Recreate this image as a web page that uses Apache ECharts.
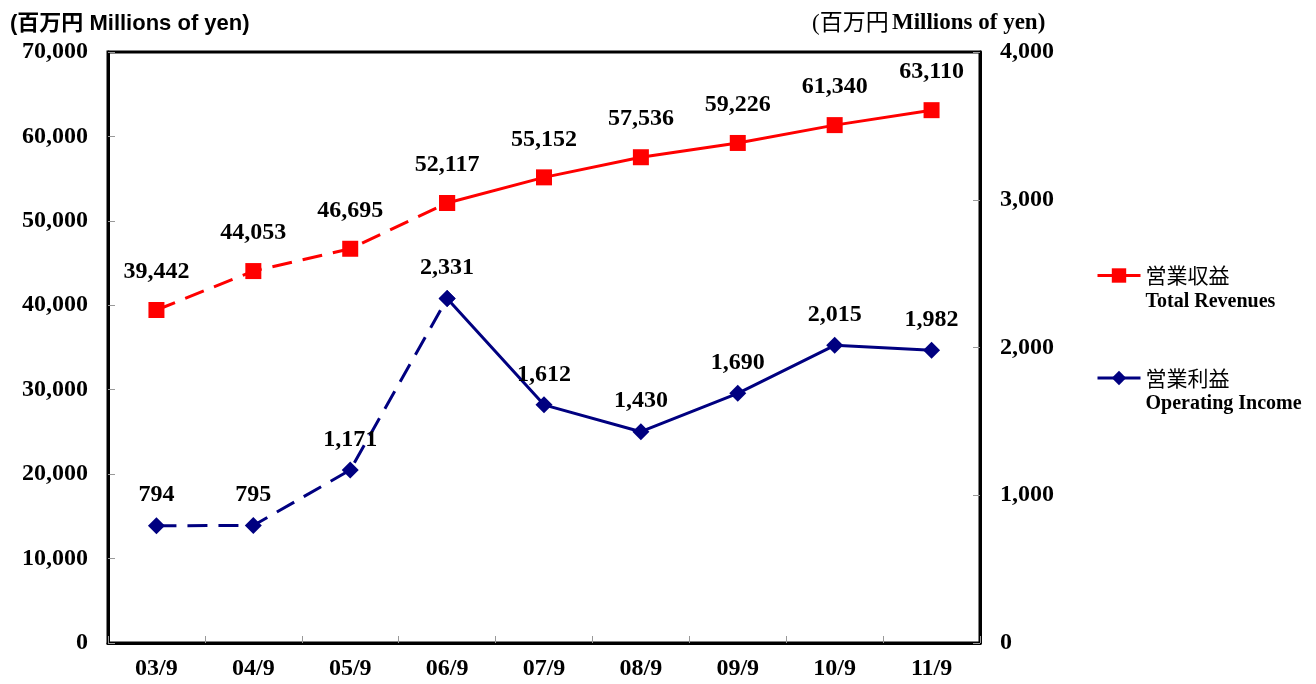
<!DOCTYPE html>
<html>
<head>
<meta charset="utf-8">
<script src="https://cdn.jsdelivr.net/npm/echarts@6/dist/echarts.min.js"></script>
<style>html,body{margin:0;padding:0;background:#fff;}#c{width:1316px;height:684px;}</style>
</head>
<body>
<div id="c"></div>
<script>
var categories = ['03/9','04/9','05/9','06/9','07/9','08/9','09/9','10/9','11/9'];
var revenues = [39442, 44053, 46695, 52117, 55152, 57536, 59226, 61340, 63110];
var opIncome = [794, 795, 1171, 2331, 1612, 1430, 1690, 2015, 1982];
var splitIndex = 3; // dashed up to 06/9, solid afterwards
var leftTicks = {min: 0, max: 70000, interval: 10000};
var rightTicks = {min: 0, max: 4000, interval: 1000};

function part(arr, from, to) {
  return arr.map(function (v, i) { return (i >= from && i <= to) ? v : null; });
}
function fmt(v) { return Number(v).toLocaleString('en-US'); }

var SERIF = '"Liberation Serif", "Times New Roman", serif';
var RED = '#FF0000', NAVY = '#000080';
var FS = 24;

function labelCfg(dist, minIdx) {
  return {
    show: true, position: 'top', distance: dist,
    fontFamily: SERIF, fontWeight: 'bold', fontSize: FS, color: '#000',
    formatter: function (p) { return p.dataIndex >= minIdx ? fmt(p.value) : ''; }
  };
}

var chart = echarts.init(document.getElementById('c'));
chart.setOption({
  animation: false,
  backgroundColor: '#fff',
  grid: {left: 108, right: 336, top: 52, bottom: 41, show: true, borderColor: '#000', borderWidth: 3, backgroundColor: 'transparent'},
  graphic: [
    {type: 'text', left: 10, top: 13, style: {text: '(百万円 Millions of yen)', font: 'bold 22px "Liberation Sans", Arial, "Noto Sans CJK JP", sans-serif', fill: '#000'}},
    {type: 'text', left: 812, top: 12, style: {
      text: '{j|(百万円} {e|Millions of yen)}',
      rich: {
        j: {fontFamily: '"Liberation Serif", "Noto Sans CJK JP", serif', fontSize: 23, fontWeight: 'normal', fill: '#000'},
        e: {fontFamily: SERIF, fontSize: 23, fontWeight: 'bold', fill: '#000'}
      }
    }}
  ],
  legend: {
    orient: 'vertical', left: 1096, top: 265, padding: 0, itemWidth: 43, itemHeight: 18, itemGap: 56,
    data: ['営業収益', '営業利益'],
    lineStyle: {width: 3},
    formatter: function (name) {
      return name === '営業収益' ? '{a|営業収益}\n{b|Total Revenues}' : '{a|営業利益}\n{b|Operating Income}';
    },
    textStyle: {
      padding: [26, 0, 0, 0],
      rich: {
        a: {fontFamily: '"Noto Sans CJK JP", sans-serif', fontSize: 21, lineHeight: 26, color: '#000'},
        b: {fontFamily: SERIF, fontWeight: 'bold', fontSize: 20, lineHeight: 26, color: '#000'}
      }
    }
  },
  xAxis: {
    type: 'category', data: categories, boundaryGap: true,
    axisLine: {lineStyle: {color: '#000', width: 3}},
    axisTick: {show: true, inside: true, length: 7, lineStyle: {color: '#999', width: 1}},
    axisLabel: {fontFamily: SERIF, fontWeight: 'bold', fontSize: FS, color: '#000', margin: 14},
    splitLine: {show: false}
  },
  yAxis: [
    {
      type: 'value', position: 'left', min: leftTicks.min, max: leftTicks.max, interval: leftTicks.interval,
      axisLine: {show: true, lineStyle: {color: '#000', width: 3}},
      axisTick: {show: true, inside: true, length: 7, lineStyle: {color: '#999', width: 1}},
      axisLabel: {fontFamily: SERIF, fontWeight: 'bold', fontSize: FS, color: '#000', margin: 20, formatter: fmt},
      splitLine: {show: false}
    },
    {
      type: 'value', position: 'right', min: rightTicks.min, max: rightTicks.max, interval: rightTicks.interval,
      axisLine: {show: true, lineStyle: {color: '#000', width: 3}},
      axisTick: {show: true, inside: true, length: 7, lineStyle: {color: '#999', width: 1}},
      axisLabel: {fontFamily: SERIF, fontWeight: 'bold', fontSize: FS, color: '#000', margin: 20, formatter: fmt},
      splitLine: {show: false}
    }
  ],
  series: [
    {
      name: '営業収益', type: 'line', yAxisIndex: 0, data: part(revenues, splitIndex, revenues.length - 1),
      symbol: 'rect', symbolSize: 16, itemStyle: {color: RED}, lineStyle: {color: RED, width: 3},
      label: labelCfg(18, splitIndex + 1), z: 3
    },
    {
      name: '営業収益', type: 'line', yAxisIndex: 0, data: part(revenues, 0, splitIndex),
      symbol: 'rect', symbolSize: 16, itemStyle: {color: RED}, lineStyle: {color: RED, width: 3, type: [20, 11]},
      label: labelCfg(18, 0), z: 3
    },
    {
      name: '営業利益', type: 'line', yAxisIndex: 1, data: part(opIncome, splitIndex, opIncome.length - 1),
      symbol: 'diamond', symbolSize: 17, itemStyle: {color: NAVY}, lineStyle: {color: NAVY, width: 3},
      label: labelCfg(10, splitIndex + 1), z: 3
    },
    {
      name: '営業利益', type: 'line', yAxisIndex: 1, data: part(opIncome, 0, splitIndex),
      symbol: 'diamond', symbolSize: 17, itemStyle: {color: NAVY}, lineStyle: {color: NAVY, width: 3, type: [20, 11]},
      label: labelCfg(10, 0), z: 3
    }
  ]
});
</script>
</body>
</html>
